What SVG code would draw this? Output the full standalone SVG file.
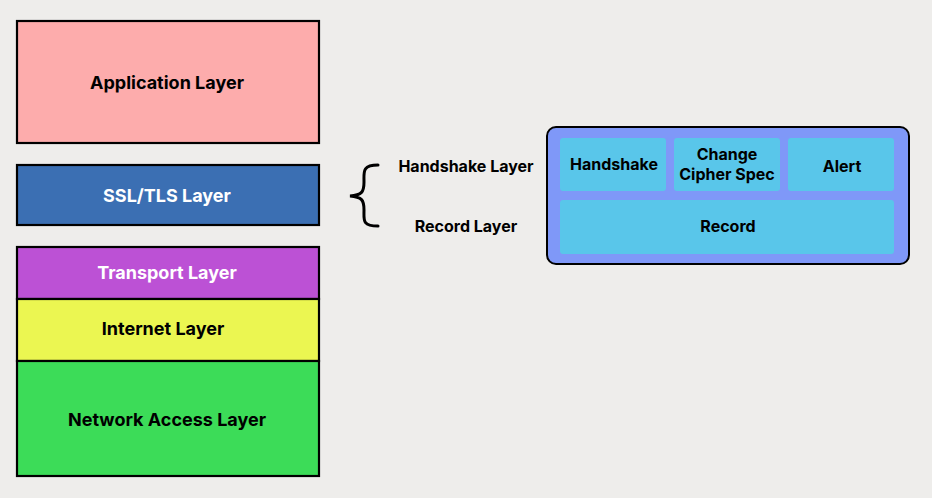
<svg xmlns="http://www.w3.org/2000/svg" width="932" height="498" viewBox="0 0 932 498">
<style>
.layer{stroke:#000;stroke-width:2.2}
.t{font-family:Inter,"Liberation Sans",sans-serif;font-weight:700;text-anchor:middle;dominant-baseline:central}
.big{font-size:18px}
.sm{font-size:16px}
.inner{fill:#59c6ea}
</style>
<rect width="932" height="498" fill="#eeedeb"/>
<g id="application"><rect class="layer" x="17" y="21" width="302" height="122" fill="#fdacac"/><text class="t big" x="167" y="82">Application Layer</text></g>
<g id="ssltls"><rect class="layer" x="17" y="165" width="302" height="60" fill="#3b6fb3"/><text class="t big" x="167" y="195" fill="#fff">SSL/TLS Layer</text></g>
<g id="transport"><rect class="layer" x="17" y="247" width="302" height="52" fill="#bc51d5"/><text class="t big" x="167" y="272" fill="#fff">Transport Layer</text></g>
<g id="internet"><rect class="layer" x="17" y="299" width="302" height="62" fill="#ebf651"/><text class="t big" x="163" y="328">Internet Layer</text></g>
<g id="network"><rect class="layer" x="17" y="361" width="302" height="115" fill="#3cdc58"/><text class="t big" x="167" y="419">Network Access Layer</text></g>
<g id="brace"><path d="M378 165 C362 165 364 172 364 182 C364 192 362 195 350 196 C362 197 364 200 364 210 C364 220 362 226 378 226" fill="none" stroke="#000" stroke-width="3" stroke-linecap="round"/></g>
<g id="labels"><text class="t sm" x="466" y="166">Handshake Layer</text><text class="t sm" x="466" y="226">Record Layer</text></g>
<g id="sslbox"><rect x="547" y="127" width="362" height="137" rx="9" fill="#7f98f8" stroke="#000" stroke-width="2"/></g>
<g id="handshake"><rect class="inner" x="560" y="138" width="106" height="53" rx="3"/><text class="t sm" x="614" y="164">Handshake</text></g>
<g id="ccs"><rect class="inner" x="674" y="138" width="106" height="53" rx="3"/><text class="t sm" x="727" y="154">Change</text><text class="t sm" x="727" y="174">Cipher Spec</text></g>
<g id="alert"><rect class="inner" x="788" y="138" width="106" height="53" rx="3"/><text class="t sm" x="842" y="166">Alert</text></g>
<g id="record"><rect class="inner" x="560" y="200" width="334" height="54" rx="3"/><text class="t sm" x="728" y="226">Record</text></g>
<g id="connectors"/>
</svg>
